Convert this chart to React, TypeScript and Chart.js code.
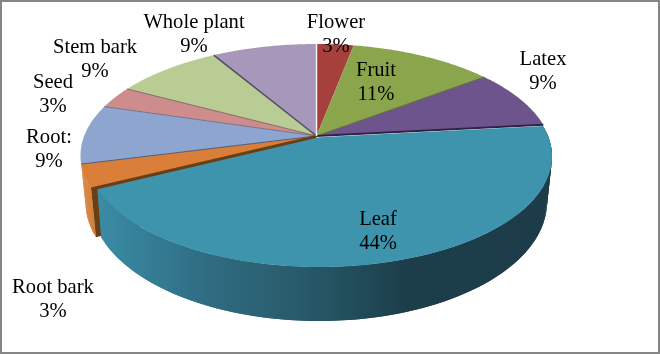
import React, { useEffect, useRef } from "react";
import { Chart, registerables } from "chart.js";

Chart.register(...registerables);

const categories = ["Flower", "Fruit", "Latex", "Leaf", "Root bark", "Root:", "Seed", "Stem bark", "Whole plant"];
// Printed percentages, as labelled in the picture.
const percentLabels = ["3%", "11%", "9%", "44%", "3%", "9%", "3%", "9%", "9%"];
const shares = [3.0, 11.7, 8.6, 44.3, 3.4, 8.6, 3.2, 8.7, 8.5];
const topColors = ["#A5403D", "#8BA54C", "#6E548D", "#3F94AD", "#DA7F39", "#8EA5CF", "#CF8C8C", "#B9CC94", "#A797BA"];
const edgeColors = [null, "#5f7332", "#2f2245", null, "#4f5a78", "#6f7590", "#85686c", "#4f4c60", null];
const edgeWidths = [0, 1, 2, 0, 1, 1, 1, 1.5, 0];

// Layout of the labels (centre x, first line baseline), in category order.
const labelX = [336, 376, 543, 378, 53, 49, 53, 95, 194];
const labelY = [28, 76, 65, 225, 293, 143, 88, 53, 28];
const LINE = 24;
const FONT = "20.6px 'Liberation Serif'";

type Lens = { cx: number; cy: number; rx: number; ry: number };
const TILT = -0.175;
const topLens: Lens = { cx: 316.5, cy: 155.5, rx: 236, ry: 111.5 };
const baseLens: Lens = { cx: 316.5, cy: 202, rx: 231, ry: 119 };
const leafTop: Lens = { cx: 319.5, cy: 156.5, rx: 232.5, ry: 110.5 };
const leafBase: Lens = { cx: 319, cy: 202, rx: 228, ry: 119 };

// Maps a point of the unit disk to the screen through a projective map, so the
// pie's apex sits above the centre of its ellipse as it does in a perspective view.
function project(l: Lens, u: number, v: number): [number, number] {
  const d = 1 + TILT * v;
  return [l.cx + (l.rx * u * Math.sqrt(1 - TILT * TILT)) / d, l.cy + (l.ry * (v + TILT)) / d];
}
const rim = (l: Lens, a: number) => project(l, Math.cos(a), Math.sin(a));
const apex = (l: Lens) => project(l, 0, 0);

function fillSlice(ctx: CanvasRenderingContext2D, l: Lens, s: number, e: number, color: string) {
  ctx.beginPath();
  ctx.moveTo(...apex(l));
  const n = Math.max(4, Math.ceil((e - s) / 0.01));
  for (let i = 0; i <= n; i++) ctx.lineTo(...rim(l, s + ((e - s) * i) / n));
  ctx.closePath();
  ctx.fillStyle = color;
  ctx.fill();
}

function wall(ctx: CanvasRenderingContext2D, t: Lens, b: Lens, s: number, e: number, paint: string | CanvasGradient) {
  const n = Math.max(6, Math.ceil((e - s) / 0.02));
  ctx.fillStyle = paint;
  // Each quad overlaps the next by a full step so that no seam shows.
  for (let i = 0; i < n; i++) {
    const a0 = s + ((e - s) * i) / n;
    const a1 = s + ((e - s) * Math.min(i + 2, n)) / n;
    ctx.beginPath();
    ctx.moveTo(...rim(t, a0));
    ctx.lineTo(...rim(t, a1));
    ctx.lineTo(...rim(b, a1));
    ctx.lineTo(...rim(b, a0));
    ctx.closePath();
    ctx.fill();
  }
}

const piePlugin = {
  id: "perspectivePie",
  beforeDraw(chart: any) {
    const { ctx, width, height } = chart;
    ctx.save();
    ctx.fillStyle = "#fff";
    ctx.fillRect(0, 0, width, height);
    ctx.restore();
  },
  beforeDatasetsDraw(chart: any) {
    const ctx: CanvasRenderingContext2D = chart.ctx;
    const arcs = chart.getDatasetMeta(0).data as any[];
    const colors = chart.data.datasets[0].backgroundColor as string[];
    const leaf = categories.indexOf("Leaf");
    const bark = categories.indexOf("Root bark");
    ctx.save();

    // Root bark: outer wall and the inner wall that shows beside the leaf.
    const barkGrad = ctx.createLinearGradient(80, 0, 100, 0);
    barkGrad.addColorStop(0, "#DB8C4A");
    barkGrad.addColorStop(1, "#CF7A36");
    wall(ctx, topLens, baseLens, arcs[bark].startAngle, arcs[bark].endAngle, barkGrad);
    ctx.beginPath();
    ctx.moveTo(...apex(topLens));
    ctx.lineTo(...rim(topLens, arcs[bark].startAngle));
    ctx.lineTo(...rim(baseLens, arcs[bark].startAngle));
    ctx.lineTo(...apex(baseLens));
    ctx.closePath();
    ctx.fillStyle = "#6B3F15";
    ctx.fill();

    // Leaf: outer wall.
    const grad = ctx.createLinearGradient(95, 0, 552, 0);
    grad.addColorStop(0, "#3B8CA5");
    grad.addColorStop(0.12, "#347D95");
    grad.addColorStop(0.25, "#2F6C81");
    grad.addColorStop(0.4, "#2A5F70");
    grad.addColorStop(0.52, "#245260");
    grad.addColorStop(0.68, "#1C3E4A");
    grad.addColorStop(1, "#1B3C48");
    wall(ctx, leafTop, leafBase, arcs[leaf].startAngle, arcs[leaf].endAngle, grad);

    // Tops of the slices, the leaf last because it sits in front.
    arcs.forEach((arc, i) => {
      if (i !== leaf) fillSlice(ctx, topLens, arc.startAngle, arc.endAngle, colors[i]);
    });
    arcs.forEach((arc, i) => {
      const c = edgeColors[i];
      if (!c) return;
      ctx.beginPath();
      ctx.moveTo(...apex(topLens));
      ctx.lineTo(...rim(topLens, arc.endAngle));
      ctx.strokeStyle = c;
      ctx.lineWidth = edgeWidths[i];
      ctx.stroke();
    });
    // The strip of the root bark's inner wall along the leaf's edge.
    ctx.beginPath();
    ctx.moveTo(...apex(topLens));
    ctx.lineTo(...rim(topLens, arcs[bark].startAngle));
    ctx.strokeStyle = "#6B3F15";
    ctx.lineWidth = 2;
    ctx.stroke();
    fillSlice(ctx, leafTop, arcs[leaf].startAngle, arcs[leaf].endAngle, colors[leaf]);

    // Pale seam where the first slice starts.
    ctx.beginPath();
    ctx.moveTo(...apex(topLens));
    ctx.lineTo(...rim(topLens, arcs[0].startAngle));
    ctx.strokeStyle = "#F4F2F6";
    ctx.lineWidth = 1.5;
    ctx.stroke();
    ctx.restore();
    return false;
  },
  afterDraw(chart: any) {
    const ctx: CanvasRenderingContext2D = chart.ctx;
    ctx.save();
    ctx.font = FONT;
    ctx.fillStyle = "#000";
    ctx.textAlign = "center";
    ctx.textBaseline = "alphabetic";
    categories.forEach((name, i) => {
      ctx.fillText(name, labelX[i], labelY[i]);
      ctx.fillText(percentLabels[i], labelX[i], labelY[i] + LINE);
    });
    ctx.strokeStyle = "#868686";
    ctx.lineWidth = 2;
    ctx.strokeRect(1, 1, chart.width - 2, chart.height - 2);
    ctx.restore();
  },
};

export default function App() {
  const ref = useRef<HTMLCanvasElement>(null);
  useEffect(() => {
    document.body.style.margin = "0";
    const chart = new Chart(ref.current!, {
      type: "pie",
      data: {
        labels: categories,
        datasets: [{ data: shares, backgroundColor: topColors, borderWidth: 0 }],
      },
      options: {
        animation: false,
        responsive: false,
        devicePixelRatio: 1,
        plugins: { legend: { display: false }, tooltip: { enabled: false } },
      },
      plugins: [piePlugin],
    } as any);
    return () => chart.destroy();
  }, []);
  return <canvas ref={ref} width={660} height={354} style={{ display: "block" }} />;
}
